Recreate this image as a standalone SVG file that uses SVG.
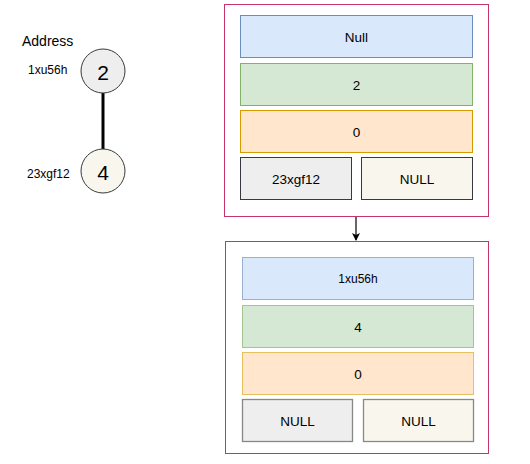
<svg xmlns="http://www.w3.org/2000/svg" width="530" height="464" viewBox="0 0 530 464">
<style>
text{font-family:"Liberation Sans",Arial,sans-serif;fill:#000;}
.lbl{font-size:13.5px;text-anchor:middle;dominant-baseline:central;}
.cont{fill:#fff;stroke:#c7336b;stroke-width:1;}
.blue{fill:#dae8fc;stroke:#6c8ebf;}
.green{fill:#d5e8d4;stroke:#82b366;}
.orange{fill:#ffe6cc;stroke:#d79b00;}
.gray{fill:#eeeeee;stroke:#36393d;}
.beige{fill:#f9f7ed;stroke:#36393d;}
.gray2{fill:#eeeeee;stroke:#888;stroke-width:1.3;}
.beige2{fill:#f9f7ed;stroke:#888;stroke-width:1.3;}
.circ{stroke:#36393d;stroke-width:1;}
.big{font-size:21px;text-anchor:middle;dominant-baseline:central;}
.addr{font-size:12px;}
</style>
<defs>
<marker id="arr" markerWidth="8" markerHeight="8" refX="7" refY="4" orient="auto" markerUnits="userSpaceOnUse">
<path d="M0,0 L8,4 L0,8 L2,4 Z" fill="#000"/>
</marker>
</defs>
<g id="connectors">
<line x1="103" y1="93" x2="103" y2="149" stroke="#000" stroke-width="3"/>
<line x1="356" y1="217" x2="356" y2="240" stroke="#000" stroke-width="1.2" marker-end="url(#arr)"/>
</g>
<g id="address-label"><text x="22" y="46" font-size="14">Address</text></g>
<g id="tree-node-2">
<circle class="circ" cx="103" cy="71" r="22" fill="#eeeeee"/>
<text class="big" x="103" y="72">2</text>
<text class="addr" x="28" y="74">1xu56h</text>
</g>
<g id="tree-node-4">
<circle class="circ" cx="103" cy="171" r="22" fill="#f9f7ed"/>
<text class="big" x="103" y="172">4</text>
<text class="addr" x="27" y="178">23xgf12</text>
</g>
<g id="struct-1">
<rect class="cont" x="224.5" y="4.5" width="264" height="212"/>
<rect class="blue" x="240.5" y="15.5" width="232" height="42"/>
<text class="lbl" x="356.5" y="37">Null</text>
<rect class="green" x="240.5" y="63.5" width="232" height="42"/>
<text class="lbl" x="356.5" y="85">2</text>
<rect class="orange" x="240.5" y="110.5" width="232" height="42"/>
<text class="lbl" x="356.5" y="132">0</text>
<rect class="gray" x="240.5" y="157.5" width="111" height="42"/>
<text class="lbl" x="296" y="179">23xgf12</text>
<rect class="beige" x="361.5" y="157.5" width="111" height="42"/>
<text class="lbl" x="417" y="179">NULL</text>
</g>
<g id="struct-2">
<rect class="cont" x="225.5" y="241.5" width="263" height="212"/>
<rect class="blue" x="242.5" y="257.5" width="231" height="42" style="stroke:#9bb0d0"/>
<text class="lbl" x="358" y="279" font-size="12" style="font-size:12px">1xu56h</text>
<rect class="green" x="242.5" y="305.5" width="231" height="42" style="stroke:#a3c493"/>
<text class="lbl" x="358" y="327">4</text>
<rect class="orange" x="242.5" y="352.5" width="231" height="42" style="stroke:#e6c060"/>
<text class="lbl" x="358" y="374">0</text>
<rect class="gray2" x="242.5" y="399.5" width="110" height="42"/>
<text class="lbl" x="297.5" y="421">NULL</text>
<rect class="beige2" x="363.5" y="399.5" width="110" height="42"/>
<text class="lbl" x="418.5" y="421">NULL</text>
</g>
</svg>
